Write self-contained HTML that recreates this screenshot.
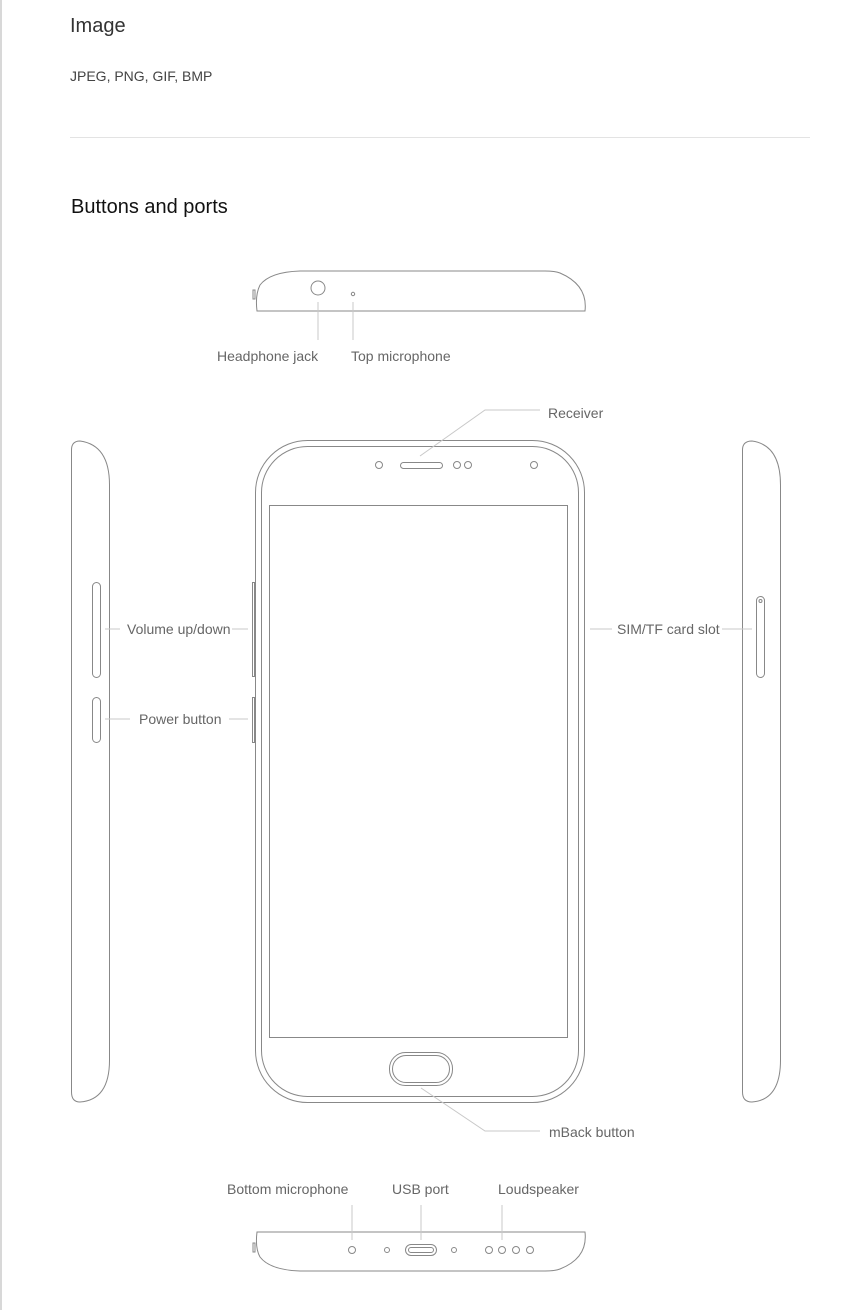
<!DOCTYPE html>
<html><head><meta charset="utf-8"><style>
html,body{margin:0;padding:0;background:#fff;width:862px;height:1310px;overflow:hidden}
svg{position:absolute;left:0;top:0}
</style></head><body>
<svg width="862" height="1310" xmlns="http://www.w3.org/2000/svg" font-family="Liberation Sans, sans-serif">
<rect x="0" y="0" width="2" height="1310" fill="#d8d8d8"/>
<text x="70" y="32" font-size="20" fill="#333">Image</text>
<text x="70" y="81" font-size="14" fill="#444">JPEG, PNG, GIF, BMP</text>
<rect x="70" y="137" width="740" height="1" fill="#e3e3e3"/>
<text x="71" y="213" font-size="20" fill="#111">Buttons and ports</text>

<g fill="none" stroke="#888" stroke-width="1">
<!-- top view -->
<path d="M257,311 L585,311 Q588,285 560,273 Q555,271 545,271 L300,271 Q270,272 260,285 Q255,295 257,311 Z"/>
<rect x="253" y="290" width="2" height="9"/>
<circle cx="318" cy="288" r="7"/>
<circle cx="353" cy="294" r="1.7"/>
<!-- front -->
<rect x="255.5" y="440.5" width="329" height="662" rx="52"/>
<rect x="261.5" y="446.5" width="317" height="650" rx="46"/>
<rect x="269.5" y="505.5" width="298" height="532"/>
<rect x="389.5" y="1052.5" width="63" height="33" rx="16"/>
<rect x="392.5" y="1055.5" width="57" height="27" rx="13.5"/>
<circle cx="379" cy="465" r="3.5"/>
<rect x="400.5" y="462.5" width="42" height="6" rx="3"/>
<circle cx="457" cy="465" r="3.5"/>
<circle cx="468" cy="465" r="3.5"/>
<circle cx="534" cy="465" r="3.5"/>
<rect x="252.5" y="582.5" width="2" height="94"/>
<rect x="252.5" y="697.5" width="2" height="45"/>
<!-- left side -->
<path d="M71.5,1092 L71.5,450 Q71.5,441 80,441 Q109.5,445 109.5,485 L109.5,1060 Q109.5,1100 80,1102 Q71.5,1102 71.5,1092 Z"/>
<rect x="92.5" y="582.5" width="8" height="95" rx="4"/>
<rect x="92.5" y="697.5" width="8" height="45" rx="4"/>
<!-- right side -->
<path d="M742.5,1092 L742.5,450 Q742.5,441 752,441 Q780.5,445 780.5,485 L780.5,1060 Q780.5,1100 752,1102 Q742.5,1102 742.5,1092 Z"/>
<rect x="756.5" y="596.5" width="8" height="81" rx="4"/>
<circle cx="760.5" cy="601" r="1.5"/>
<!-- bottom view -->
<path d="M257,1232 L585,1232 Q588,1258 560,1269 Q555,1271 545,1271 L300,1271 Q270,1270 260,1257 Q255,1248 257,1232 Z"/>
<rect x="253" y="1243" width="2" height="9"/>
<circle cx="352" cy="1250" r="3.5"/>
<circle cx="387" cy="1250" r="2.5"/>
<circle cx="454" cy="1250" r="2.5"/>
<rect x="405.5" y="1244.5" width="31" height="11" rx="5.5"/>
<rect x="408.5" y="1247.5" width="25" height="5" rx="2.5"/>
<circle cx="489" cy="1250" r="3.5"/>
<circle cx="502" cy="1250" r="3.5"/>
<circle cx="516" cy="1250" r="3.5"/>
<circle cx="530" cy="1250" r="3.5"/>
</g>
<g stroke="#c8c8c8" stroke-width="1" fill="none">
<path d="M318,302 V340 M353,302 V340"/>
<path d="M420,456 L485,410 H540"/>
<path d="M421,1088 L485,1131 H540"/>
<path d="M105,629 H120 M232,629 H248"/>
<path d="M105,719 H130 M229,719 H248"/>
<path d="M590,629 H612 M722,629 H752"/>
<path d="M352,1240 V1205 M421,1240 V1205 M502,1240 V1205"/>
</g>
<g font-size="14" fill="#666">
<text x="217" y="361">Headphone jack</text>
<text x="351" y="361">Top microphone</text>
<text x="548" y="418">Receiver</text>
<text x="127" y="634">Volume up/down</text>
<text x="139" y="724">Power button</text>
<text x="617" y="634">SIM/TF card slot</text>
<text x="549" y="1137">mBack button</text>
<text x="227" y="1194">Bottom microphone</text>
<text x="392" y="1194">USB port</text>
<text x="498" y="1194">Loudspeaker</text>
</g>
</svg>
</body></html>
